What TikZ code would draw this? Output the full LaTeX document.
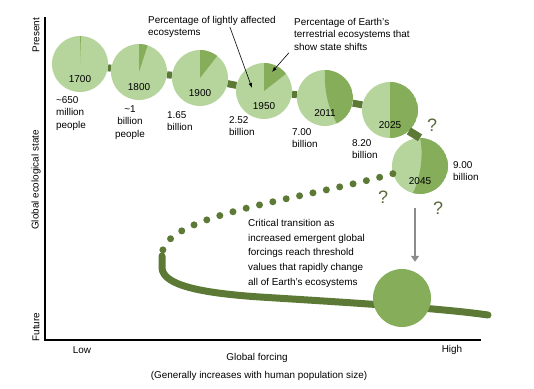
\documentclass[tikz,border=0pt]{standalone}
\usepackage{fontspec}
\setmainfont{Liberation Sans}
\usepackage{xcolor}
\usetikzlibrary{arrows.meta,positioning,calc}
\definecolor{cPale}{HTML}{B6D59C}
\definecolor{cLeaf}{HTML}{86AE5A}
\definecolor{cBark}{HTML}{5C7A35}
\definecolor{cQ}{HTML}{5A6A3A}
\definecolor{cDrop}{HTML}{8C8C8C}
\tikzset{
  disc/.style={circle,fill=cPale,minimum size=56pt,inner sep=0pt},
  pie/.style={disc,path picture={\fill[cLeaf] (path picture bounding box.center) -- (path picture bounding box.north) arc[start angle=90,end angle=90-#1,radius=28pt] -- cycle;}},
  sink/.style={circle,fill=cLeaf,minimum size=58pt,inner sep=0pt},
  year/.style={font=\fontsize{10}{11}\selectfont,yshift=-15pt},
  txt/.style={font=\fontsize{9.9}{12.5}\selectfont,align=left,inner sep=0pt,anchor=north west},
  axlbl/.style={font=\fontsize{9.9}{11}\selectfont,inner sep=0pt},
  trunk/.style={draw=cBark,line width=7pt},
  qmark/.style={font=\fontsize{18}{18}\selectfont,text=cQ,inner sep=0pt},
  pointer/.style={-{Latex[length=5pt,width=3.5pt]},line width=0.6pt},
  drop/.style={-{Triangle[length=6pt,width=8pt]},draw=cDrop,line width=2.5pt},
  axis/.style={line width=1.2pt}
}

\begin{document}
\begin{tikzpicture}[x=1pt,y=-1pt]
    \useasboundingbox (0,0) rectangle (534,388);

    % Axes
    \coordinate (top) at (45,17);
    \coordinate (origin) at (45,340);
    \coordinate (right) at (481,340);
    \draw[axis] (top) -- (origin) -- (right);
    \node[axlbl,rotate=90] (present) at (36,35) {Present};
    \node[axlbl,rotate=90] (state) at (36,180) {Global ecological state};
    \node[axlbl,rotate=90] (future) at (36,327) {Future};
    \node[axlbl] (low) at (82,350) {Low};
    \node[axlbl] (high) at (452,350) {High};
    \node[axlbl] (forcing) at (257,358) {Global forcing};
    \node[axlbl] (popsize) at (259,376) {(Generally increases with human population size)};

    % Pies
    \node[pie=2,label={[year]center:1700}] (p1700) at (80,64) {};
    \node[pie=18,label={[year]center:1800}] (p1800) at (139,72) {};
    \node[pie=38,label={[year]center:1900}] (p1900) at (200,78) {};
    \node[pie=52,label={[year]center:1950}] (p1950) at (264,91) {};
    \node[disc,label={[year]center:2011},path picture={\fill[cLeaf,shift={(path picture bounding box.center)}] (0,-28) arc[start angle=90,end angle=-65,radius=28pt] .. controls (3,10) and (-1,-8) .. (0,-28) -- cycle;}] (p2011) at (325,98) {};
    \node[pie=180,label={[year]center:2025}] (p2025) at (390,110) {};
    \node[disc,label={[year]center:2045},path picture={\fill[cLeaf,shift={(path picture bounding box.center)}] (0,-28) arc[start angle=90,end angle=-105,radius=28pt] .. controls (0,14) and (4,-11) .. (0,-28) -- cycle;}] (p2045) at (420,166) {};

    % Population
    \node[txt] (pop1700) at (56,96) {\textasciitilde650\\million\\people};
    \node[txt,align=center,anchor=north] (pop1800) at (130,105) {\textasciitilde1\\billion\\people};
    \node[txt] (pop1900) at (167,111) {1.65\\billion};
    \node[txt] (pop1950) at (229,116) {2.52\\billion};
    \node[txt] (pop2011) at (292,128) {7.00\\billion};
    \node[txt] (pop2025) at (352,139) {8.20\\billion};
    \node[txt] (pop2045) at (453,161) {9.00\\billion};

    % Notes
    \node[txt] (lightnote) at (148,16) {Percentage of lightly affected\\ecosystems};
    \node[txt] (shiftnote) at (294,18) {Percentage of Earth’s\\terrestrial ecosystems that\\show state shifts};
    \node[txt,font=\fontsize{9.9}{14.7}\selectfont] (critnote) at (248,219) {Critical transition as\\increased emergent global\\forcings reach threshold\\values that rapidly change\\all of Earth’s ecosystems};

    % Paths
    \draw[trunk] (p1700) -- (p1800);
    \draw[trunk] (p1800) -- (p1900);
    \draw[trunk] (p1900) -- (p1950);
    \draw[trunk] (p1950) -- (p2011);
    \draw[trunk] (p2011) -- (p2025);
    \draw[trunk,line width=8pt] (p2025.-48) -- (p2045.north);
    \coordinate (fold) at (162,256);
    \coordinate (tail) at (488,315);
    \draw[trunk,dash pattern=on 0pt off 13.7pt,line cap=round] (p2045) .. controls (300,200) and (160,215) .. (fold);
    \draw[trunk,line cap=round] (fold) -- (162,268) .. controls (163,285) and (200,293) .. (260,297) .. controls (340,302) and (440,308) .. (tail);
    \node[sink] (collapse) at (402,298) {};

    \coordinate (dropA) at (415,208);
    \draw[drop,shorten >=7pt] (dropA) -- (dropA |- collapse.north);
    \draw[pointer] ([xshift=-46pt]lightnote.east) -- ([shift={(-12,-3)}]p1950.center);
    \draw[pointer] ([xshift=-5pt,yshift=-2pt]shiftnote.south west) -- ([shift={(8,-19)}]p1950.center);

    % Unknowns
    \node[qmark] (q1) at (432,125) {?};
    \node[qmark] (q2) at (383,197) {?};
    \node[qmark] (q3) at (438,208) {?};
\end{tikzpicture}
\end{document}
